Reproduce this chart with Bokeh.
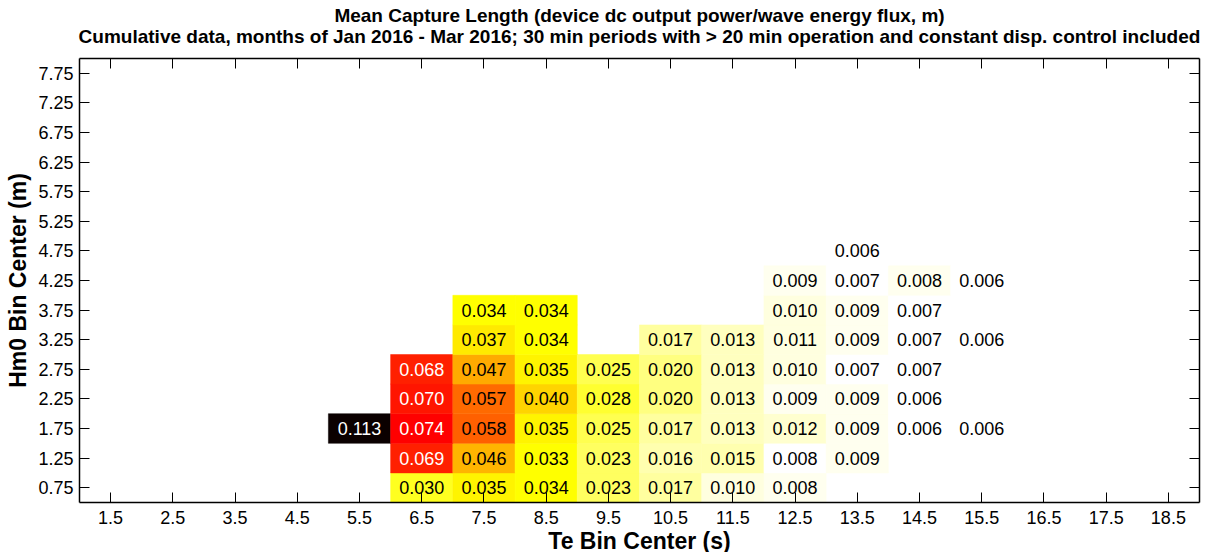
from bokeh.plotting import figure
from bokeh.models import (Range1d, FixedTicker, LinearAxis, ColumnDataSource,
                          LinearColorMapper)
from bokeh.core.properties import value
from bokeh.embed import file_html
from bokeh.resources import INLINE

# ---- data ----
te_ticks = [1.5, 2.5, 3.5, 4.5, 5.5, 6.5, 7.5, 8.5, 9.5, 10.5, 11.5, 12.5, 13.5,
            14.5, 15.5, 16.5, 17.5, 18.5]
hm0_ticks = [0.75, 1.25, 1.75, 2.25, 2.75, 3.25, 3.75, 4.25, 4.75, 5.25, 5.75,
             6.25, 6.75, 7.25, 7.75]

cell_te = [6.5, 7.5, 8.5, 9.5, 10.5, 11.5, 12.5,
           6.5, 7.5, 8.5, 9.5, 10.5, 11.5, 12.5, 13.5,
           5.5, 6.5, 7.5, 8.5, 9.5, 10.5, 11.5, 12.5, 13.5, 14.5, 15.5,
           6.5, 7.5, 8.5, 9.5, 10.5, 11.5, 12.5, 13.5, 14.5,
           6.5, 7.5, 8.5, 9.5, 10.5, 11.5, 12.5, 13.5, 14.5,
           7.5, 8.5, 10.5, 11.5, 12.5, 13.5, 14.5, 15.5,
           7.5, 8.5, 12.5, 13.5, 14.5,
           12.5, 13.5, 14.5, 15.5,
           13.5]
cell_hm0 = [0.75] * 7 + [1.25] * 8 + [1.75] * 11 + [2.25] * 9 + [2.75] * 9 + \
           [3.25] * 8 + [3.75] * 5 + [4.25] * 4 + [4.75] * 1
cell_value = [0.030, 0.035, 0.034, 0.023, 0.017, 0.010, 0.008,
              0.069, 0.046, 0.033, 0.023, 0.016, 0.015, 0.0076, 0.009,
              0.113, 0.074, 0.058, 0.035, 0.025, 0.017, 0.013, 0.012, 0.009, 0.006, 0.006,
              0.070, 0.057, 0.040, 0.028, 0.020, 0.013, 0.009, 0.009, 0.006,
              0.068, 0.047, 0.035, 0.025, 0.020, 0.013, 0.010, 0.007, 0.007,
              0.037, 0.034, 0.017, 0.013, 0.011, 0.009, 0.007, 0.006,
              0.034, 0.034, 0.010, 0.009, 0.0074,
              0.009, 0.007, 0.008, 0.006,
              0.006]

title_1 = "Mean Capture Length (device dc output power/wave energy flux, m)"
title_2 = ("Cumulative data, months of Jan 2016 - Mar 2016; 30 min periods with > 20 min "
           "operation and constant disp. control included")
x_label = "Te Bin Center (s)"
y_label = "Hm0 Bin Center (m)"

# ---- colormap: flipped MATLAB hot(64) ----
m = 64
n1 = int(3 / 8 * m)
n3 = m - 2 * n1
hot = []
for i in range(1, m + 1):
    r = min(i / n1, 1.0)
    g = 0.0 if i <= n1 else min((i - n1) / n1, 1.0)
    b = 0.0 if i <= 2 * n1 else (i - 2 * n1) / n3
    hot.append("#%02x%02x%02x" % (round(r * 255), round(g * 255), round(b * 255)))
palette = hot[::-1]
mapper = LinearColorMapper(palette=palette, low=min(cell_value), high=max(cell_value))

labels = ["%.3f" % v for v in cell_value]
tcolors = ["white" if v > 0.06 else "black" for v in cell_value]
src = ColumnDataSource(dict(te=cell_te, hm0=cell_hm0, v=cell_value, label=labels, tc=tcolors))

FONT = "Liberation Sans"

# ---- layout: the frame fills the figure; the axes box sits inside it ----
W, H = 1205, 552
BX0, BX1, BY0, BY1 = 1, 19, 0.5, 8          # axes box in data units
box_l, box_r, box_t, box_b = 79, 1199, 58, 502  # axes box in figure pixels
ppx = (box_r - box_l) / (BX1 - BX0)
ppy = (box_b - box_t) / (BY1 - BY0)
x_range = Range1d(BX0 - box_l / ppx, BX0 + (W - box_l) / ppx)
y_range = Range1d(BY0 - (H - box_b) / ppy, BY1 + box_t / ppy)

p = figure(width=W, height=H, output_backend="svg", toolbar_location=None,
           x_range=x_range, y_range=y_range, x_axis_location=None, y_axis_location=None,
           min_border=0, min_border_left=0, min_border_right=0, min_border_top=0,
           min_border_bottom=0)
p.grid.visible = False
p.outline_line_color = None
p.background_fill_color = "white"
p.border_fill_color = "white"

p.rect(x="te", y="hm0", width=1, height=0.5, source=src,
       fill_color={"field": "v", "transform": mapper},
       line_color={"field": "v", "transform": mapper}, line_width=0.5)
p.text(x="te", y="hm0", text="label", source=src, text_align="center",
       text_baseline="middle", text_color="tc", text_font=value(FONT),
       text_font_size="18px")


def make_axis(ticks, loc, fixed, bounds, show_labels, label=None, tick_standoff=6,
              label_standoff=3):
    ax = LinearAxis(ticker=FixedTicker(ticks=ticks), fixed_location=fixed, bounds=bounds,
                    major_tick_in=10, major_tick_out=0, minor_tick_line_color=None,
                    axis_line_color="black", axis_line_width=1.5,
                    major_tick_line_color="black", major_tick_line_width=1,
                    major_label_standoff=tick_standoff,
                    major_label_text_font=FONT, major_label_text_font_size="18px",
                    major_label_text_color="black")
    if show_labels:
        ax.major_label_overrides = {t: ("%g" % t) for t in ticks}
    else:
        ax.major_label_overrides = {t: "" for t in ticks}
    if label:
        ax.axis_label = label
        ax.axis_label_standoff = label_standoff
        ax.axis_label_text_font = FONT
        ax.axis_label_text_font_style = "bold"
        ax.axis_label_text_font_size = "23px"
        ax.axis_label_text_color = "black"
    p.add_layout(ax, loc)


make_axis(te_ticks, "below", BY0, (BX0, BX1), True, x_label, tick_standoff=8, label_standoff=1)
make_axis(hm0_ticks, "left", BX0, (BY0, BY1), True, y_label, tick_standoff=6, label_standoff=4)
make_axis(te_ticks, "above", BY1, (BX0, BX1), False)
make_axis(hm0_ticks, "right", BX1, (BY0, BY1), False)

# titles as text glyphs above the axes box
title_src = ColumnDataSource(dict(
    x=[(BX0 + BX1) / 2] * 2,
    y=[BY1 + 43 / ppy, BY1 + 22 / ppy],
    text=[title_1, title_2]))
p.text(x="x", y="y", text="text", source=title_src, text_align="center",
       text_baseline="middle", text_font=value(FONT), text_font_size="19px",
       text_font_style="bold", text_color="black")

open("out.html", "w").write(file_html(p, INLINE))
